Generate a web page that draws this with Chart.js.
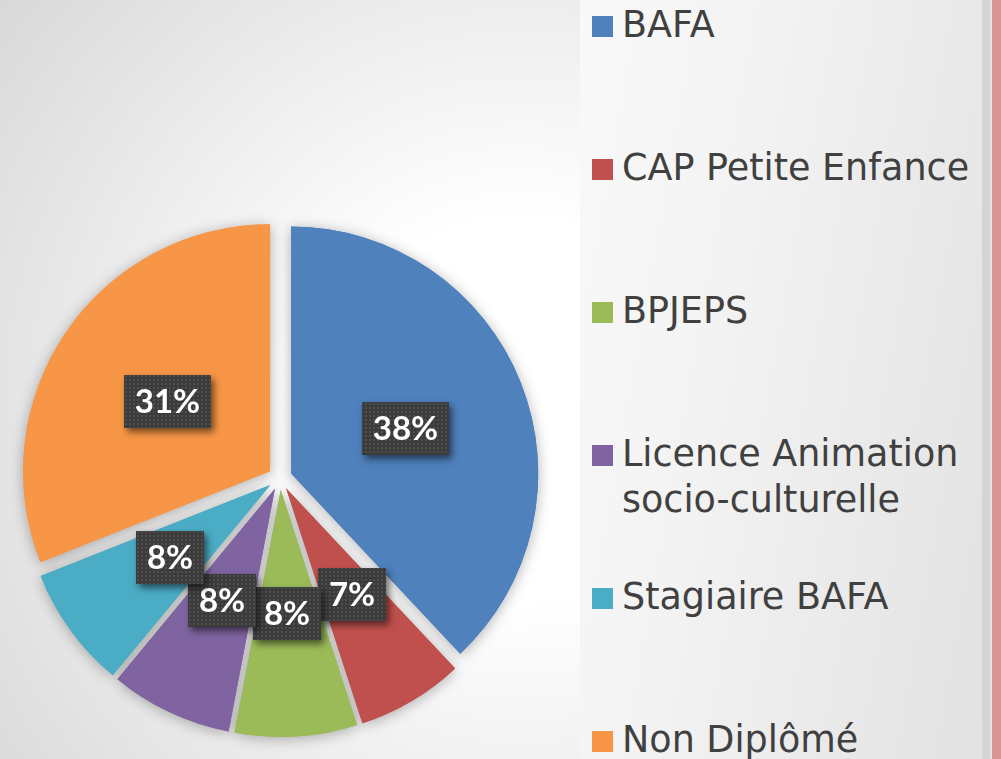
<!DOCTYPE html>
<html>
<head>
<meta charset="utf-8">
<script src="https://cdn.jsdelivr.net/npm/chart.js@4.4.1/dist/chart.umd.min.js"></script>
<style>
html,body{margin:0;padding:0;width:1001px;height:759px;overflow:hidden;}
#bg{position:absolute;left:0;top:0;width:1001px;height:759px;
  background:radial-gradient(circle at 520px 410px,#ffffff 0px,#ffffff 190px,#d6d6d6 690px);}
#panel{position:absolute;left:580px;top:0;width:402px;height:759px;
  background:linear-gradient(100deg,#f9f9f9 0%,#f3f3f3 35%,#e2e2e2 100%);}
#strip1{position:absolute;left:982px;top:0;width:8px;height:759px;background:#d5d5d5;}
#strip2{position:absolute;left:990px;top:0;width:2px;height:759px;background:#e4e4e4;}
#strip3{position:absolute;left:992px;top:0;width:9px;height:759px;background:#d99594;}
#chartWrap{position:absolute;left:0;top:198px;width:560px;height:560px;}
#legend{position:absolute;left:592px;top:0;width:400px;height:759px;}
.item{position:absolute;left:0;width:400px;}
.sw{position:absolute;left:0;width:21px;height:21px;}
.txt{position:absolute;left:30px;width:370px;font-family:"DejaVu Sans";font-size:36.5px;line-height:46px;color:#404040;white-space:normal;}
</style>
</head>
<body>
<div id="bg"></div>
<div id="panel"></div>
<div id="strip1"></div>
<div id="strip2"></div>
<div id="strip3"></div>
<div id="chartWrap"><canvas id="c" width="560" height="560"></canvas></div>
<div id="legend"></div>
<script>
const categories = ['BAFA', 'CAP Petite Enfance', 'BPJEPS', 'Licence Animation socio-culturelle', 'Stagiaire BAFA', 'Non Diplômé'];
const shares = [38, 7, 8, 8, 8, 31];
const colors = ['#4F81BD', '#C0504D', '#9BBB59', '#8064A2', '#4BACC6', '#F79646'];

const EXPLODE = 12;
const PIE_RADIUS = 247;
const LABEL_FONT = 'bold 33px Lato';
const BOX_PADX = 11;
const BOX_H = 53;
const LEGEND_STEP = 143;

// HTML legend built from the arrays
const legendEl = document.getElementById('legend');
categories.forEach((name, i) => {
  const item = document.createElement('div');
  item.className = 'item';
  item.style.top = (i * LEGEND_STEP) + 'px';
  const sw = document.createElement('div');
  sw.className = 'sw';
  sw.style.top = '16px';
  sw.style.background = colors[i];
  const tx = document.createElement('div');
  tx.className = 'txt';
  tx.style.top = '2px';
  tx.textContent = name;
  item.appendChild(sw);
  item.appendChild(tx);
  legendEl.appendChild(item);
});

// dotted dark pattern for label boxes
function makePattern(ctx) {
  const p = document.createElement('canvas');
  p.width = 4; p.height = 4;
  const pc = p.getContext('2d');
  pc.fillStyle = '#3b3b3b';
  pc.fillRect(0, 0, 4, 4);
  pc.fillStyle = '#4f4f4f';
  pc.fillRect(1, 1, 2, 2);
  return ctx.createPattern(p, 'repeat');
}

const explodePlugin = {
  id: 'explode',
  beforeDatasetDraw(chart, args) {
    const ctx = chart.ctx;
    const arcs = args.meta.data;
    const pass = (shadow) => {
      arcs.forEach(a => {
        const mid = (a.startAngle + a.endAngle) / 2;
        ctx.save();
        ctx.translate(Math.cos(mid) * EXPLODE, Math.sin(mid) * EXPLODE);
        if (shadow) {
          ctx.shadowColor = 'rgba(0,0,0,0.30)';
          ctx.shadowBlur = 14;
          ctx.shadowOffsetX = 0;
          ctx.shadowOffsetY = 2;
        }
        a.draw(ctx);
        ctx.restore();
      });
    };
    pass(true);
    pass(false);
    return false;
  }
};

const labelPlugin = {
  id: 'boxLabels',
  afterDatasetsDraw(chart) {
    const ctx = chart.ctx;
    const arcs = chart.getDatasetMeta(0).data;
    const data = chart.data.datasets[0].data;
    const total = data.reduce((s, v) => s + v, 0);
    ctx.save();
    ctx.font = LABEL_FONT;
    const boxes = arcs.map((a, i) => {
      const mid = (a.startAngle + a.endAngle) / 2;
      const r = EXPLODE + a.outerRadius * 0.5;
      const text = Math.round(data[i] / total * 100) + '%';
      const w = Math.round(ctx.measureText(text).width + 2 * BOX_PADX);
      return {cx: a.x + Math.cos(mid) * r, cy: a.y + Math.sin(mid) * r, w, h: BOX_H, text};
    });
    // simple horizontal collision resolution
    const TOL = 3;
    for (let it = 0; it < 30; it++) {
      let moved = false;
      for (let i = 0; i < boxes.length; i++) {
        for (let j = i + 1; j < boxes.length; j++) {
          const A = boxes[i], B = boxes[j];
          const ox = Math.min(A.cx + A.w / 2, B.cx + B.w / 2) - Math.max(A.cx - A.w / 2, B.cx - B.w / 2);
          const oy = Math.min(A.cy + A.h / 2, B.cy + B.h / 2) - Math.max(A.cy - A.h / 2, B.cy - B.h / 2);
          if (ox > TOL && oy > A.h * 0.5) {
            const s = (ox - TOL) / 2;
            if (A.cx < B.cx) { A.cx -= s; B.cx += s; } else { A.cx += s; B.cx -= s; }
            moved = true;
          }
        }
      }
      if (!moved) break;
    }
    const pat = makePattern(ctx);
    boxes.forEach(b => {
      const x = Math.round(b.cx - b.w / 2), y = Math.round(b.cy - b.h / 2);
      ctx.save();
      ctx.shadowColor = 'rgba(0,0,0,0.55)';
      ctx.shadowBlur = 7;
      ctx.shadowOffsetX = 3;
      ctx.shadowOffsetY = 4;
      ctx.fillStyle = '#3b3b3b';
      ctx.fillRect(x, y, b.w, b.h);
      ctx.restore();
      ctx.fillStyle = pat;
      ctx.fillRect(x, y, b.w, b.h);
      ctx.fillStyle = '#ffffff';
      ctx.textAlign = 'center';
      ctx.textBaseline = 'middle';
      ctx.font = LABEL_FONT;
      ctx.fillText(b.text, x + b.w / 2, y + b.h / 2 + 1);
    });
    ctx.restore();
  }
};

new Chart(document.getElementById('c'), {
  type: 'pie',
  data: {
    labels: categories,
    datasets: [{
      data: shares,
      backgroundColor: colors,
      borderWidth: 0
    }]
  },
  options: {
    responsive: false,
    animation: false,
    events: [],
    radius: PIE_RADIUS,
    layout: {padding: 0},
    plugins: {legend: {display: false}, tooltip: {enabled: false}}
  },
  plugins: [explodePlugin, labelPlugin]
});
</script>
</body>
</html>
